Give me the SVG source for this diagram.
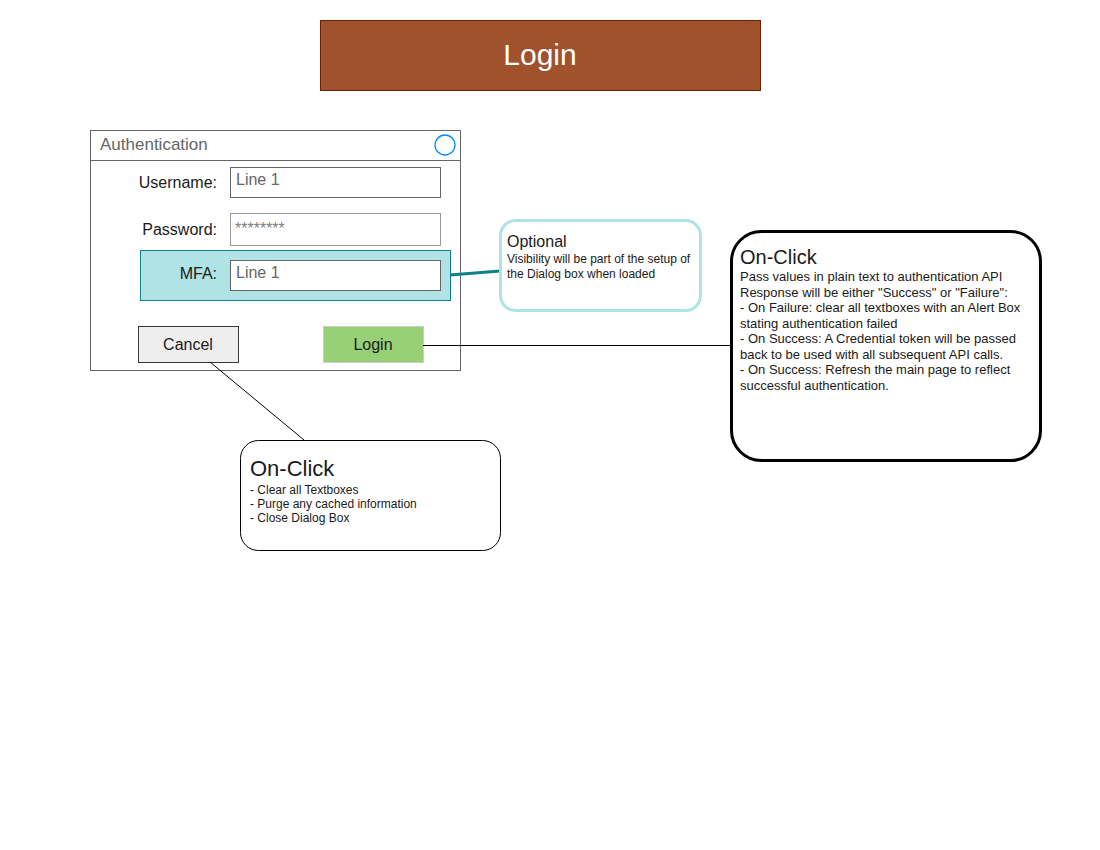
<svg xmlns="http://www.w3.org/2000/svg" width="1100" height="850" viewBox="0 0 1100 850">
  <style>
    text { font-family: "Liberation Sans", Arial, sans-serif; }
    .lbl { font-size: 16px; fill: #1a1a1a; }
    .ph { font-size: 16px; fill: #666666; }
    .tb { fill: #ffffff; stroke: #666666; stroke-width: 1; }
    .note-title { font-size: 20px; fill: #1a1a1a; }
    .note-title-lg { font-size: 22px; fill: #1a1a1a; }
    .note-body { font-size: 12px; fill: #1a1a1a; }
    .note-body-lg { font-size: 13px; fill: #1a1a1a; }
    .conn { fill: none; stroke: #000000; stroke-width: 1; }
  </style>
  <rect width="1100" height="850" fill="#ffffff"/>

  <!-- page title -->
  <g id="title">
    <rect x="320.5" y="20.5" width="440" height="70" fill="#a0522d" stroke="#6d1f00"/>
    <text x="540" y="65" text-anchor="middle" font-size="30" fill="#ffffff">Login</text>
  </g>

  <!-- authentication dialog -->
  <g id="dialog">
    <rect x="90.5" y="130.5" width="370" height="240" fill="#ffffff" stroke="#666666"/>
    <line x1="90.5" y1="160.5" x2="460.5" y2="160.5" stroke="#666666"/>
    <text x="100" y="150" font-size="17" fill="#666666">Authentication</text>
    <circle cx="445" cy="145" r="10" fill="none" stroke="#008cff" stroke-width="1.3"/>
  </g>

  <g id="username">
    <text class="lbl" x="217" y="188" text-anchor="end">Username:</text>
    <rect class="tb" x="230.5" y="167.5" width="210" height="30"/>
    <text class="ph" x="236" y="185">Line 1</text>
  </g>

  <g id="password">
    <text class="lbl" x="217" y="235" text-anchor="end">Password:</text>
    <rect x="230.5" y="213.5" width="210" height="32" fill="#ffffff" stroke="#999999"/>
    <text x="235" y="234" font-size="16" fill="#808080">********</text>
  </g>

  <g id="mfa">
    <rect x="140.5" y="250.5" width="310" height="50" fill="#b0e3e6" stroke="#0e8088"/>
    <text class="lbl" x="217" y="279" text-anchor="end">MFA:</text>
    <rect class="tb" x="230.5" y="260.5" width="210" height="30"/>
    <text class="ph" x="236" y="278">Line 1</text>
  </g>

  <g id="cancel-button">
    <rect x="138.5" y="326.5" width="100" height="36" fill="#eeeeee" stroke="#36393d"/>
    <text class="lbl" x="188" y="350" text-anchor="middle">Cancel</text>
  </g>

  <g id="login-button">
    <rect x="323.5" y="326.5" width="100" height="36" fill="#97d077" stroke="#cccccc"/>
    <text class="lbl" x="373" y="350" text-anchor="middle">Login</text>
  </g>

  <!-- connectors -->
  <g id="connectors">
    <line x1="450" y1="275" x2="500" y2="271" stroke="#0e8088" stroke-width="3"/>
    <line class="conn" x1="423" y1="345.5" x2="731" y2="345.5"/>
    <line class="conn" x1="210" y1="362" x2="304" y2="440"/>
  </g>

  <!-- notes -->
  <g id="optional-note">
    <rect x="500.5" y="220.5" width="200" height="90" rx="15" fill="#ffffff" stroke="#b0e3e6" stroke-width="3"/>
    <text x="507" y="247" font-size="16" fill="#1a1a1a">Optional</text>
    <text class="note-body" x="507" y="263">Visibility will be part of the setup of</text>
    <text class="note-body" x="507" y="278">the Dialog box when loaded</text>
  </g>

  <g id="login-onclick-note">
    <rect x="731.5" y="231.5" width="309" height="229" rx="30" fill="#ffffff" stroke="#000000" stroke-width="3"/>
    <text class="note-title" x="740" y="264">On-Click</text>
    <text class="note-body-lg" x="740" y="281">Pass values in plain text to authentication API</text>
    <text class="note-body-lg" x="740" y="297">Response will be either "Success" or "Failure":</text>
    <text class="note-body-lg" x="740" y="312">- On Failure: clear all textboxes with an Alert Box</text>
    <text class="note-body-lg" x="740" y="328">stating authentication failed</text>
    <text class="note-body-lg" x="740" y="343">- On Success: A Credential token will be passed</text>
    <text class="note-body-lg" x="740" y="359">back to be used with all subsequent API calls.</text>
    <text class="note-body-lg" x="740" y="374">- On Success: Refresh the main page to reflect</text>
    <text class="note-body-lg" x="740" y="390">successful authentication.</text>
  </g>

  <g id="cancel-onclick-note">
    <rect x="240.5" y="440.5" width="260" height="110" rx="18" fill="#ffffff" stroke="#000000"/>
    <text class="note-title-lg" x="250" y="476">On-Click</text>
    <text class="note-body" x="250" y="494">- Clear all Textboxes</text>
    <text class="note-body" x="250" y="508">- Purge any cached information</text>
    <text class="note-body" x="250" y="522">- Close Dialog Box</text>
  </g>
</svg>
